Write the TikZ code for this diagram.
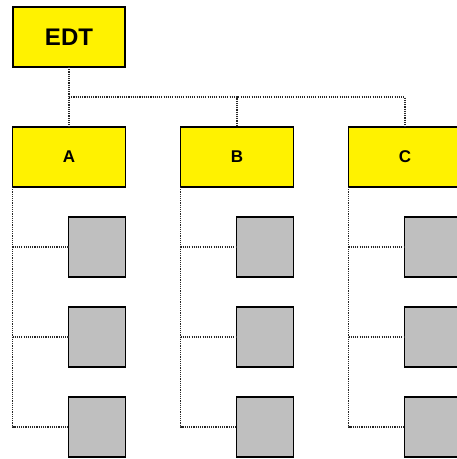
\documentclass[tikz,border=0pt]{standalone}
\usepackage{fontspec}
\setmainfont{Liberation Sans}
\usetikzlibrary{positioning}

\begin{document}
\begin{tikzpicture}[x=1pt,y=1pt,
  box/.style={rectangle,draw=black,line width=1.3pt,inner sep=0pt,outer sep=0pt},
  top node/.style={box,fill=yellow,minimum width=112pt,minimum height=60pt,font=\bfseries\fontsize{24}{24}\selectfont},
  main node/.style={box,fill=yellow,minimum width=113pt,minimum height=60pt,font=\bfseries\fontsize{17}{17}\selectfont},
  leaf/.style={box,fill=black!25,minimum width=57pt,minimum height=60pt},
  link/.style={draw=black!85,line width=1.1pt,dash pattern=on 1.1pt off 1.1pt}]

 \useasboundingbox (0,0) rectangle (457,-459);
 \clip (0,0) rectangle (457,-459);

 \node[top node] (EDT) at (69,-37) {EDT};
 \node[main node] (A) [below=60pt of EDT] {A};
 \node[main node] (B) [right=55pt of A] {B};
 \node[main node] (C) [right=55pt of B] {C};

 \node[leaf] (a1) [below left=30pt and 0pt of A.south east] {};
 \node[leaf] (a2) [below=30pt of a1] {};
 \node[leaf] (a3) [below=30pt of a2] {};
 \node[leaf] (b1) [below left=30pt and 0pt of B.south east] {};
 \node[leaf] (b2) [below=30pt of b1] {};
 \node[leaf] (b3) [below=30pt of b2] {};
 \node[leaf] (c1) [below left=30pt and 0pt of C.south east] {};
 \node[leaf] (c2) [below=30pt of c1] {};
 \node[leaf] (c3) [below=30pt of c2] {};

 \coordinate[below=30pt of EDT.south] (bus);

 % top level
 \draw[link] (EDT) -- (A);
 \draw[link] (bus) -| (B);
 \draw[link] (bus) -| (C);

 % work packages
 \draw[link] (A.south west) |- (a3);
 \draw[link] (A.south west |- a1) -- (a1);
 \draw[link] (A.south west |- a2) -- (a2);
 \draw[link] (B.south west) |- (b3);
 \draw[link] (B.south west |- b1) -- (b1);
 \draw[link] (B.south west |- b2) -- (b2);
 \draw[link] (C.south west) |- (c3);
 \draw[link] (C.south west |- c1) -- (c1);
 \draw[link] (C.south west |- c2) -- (c2);

\end{tikzpicture}
\end{document}
